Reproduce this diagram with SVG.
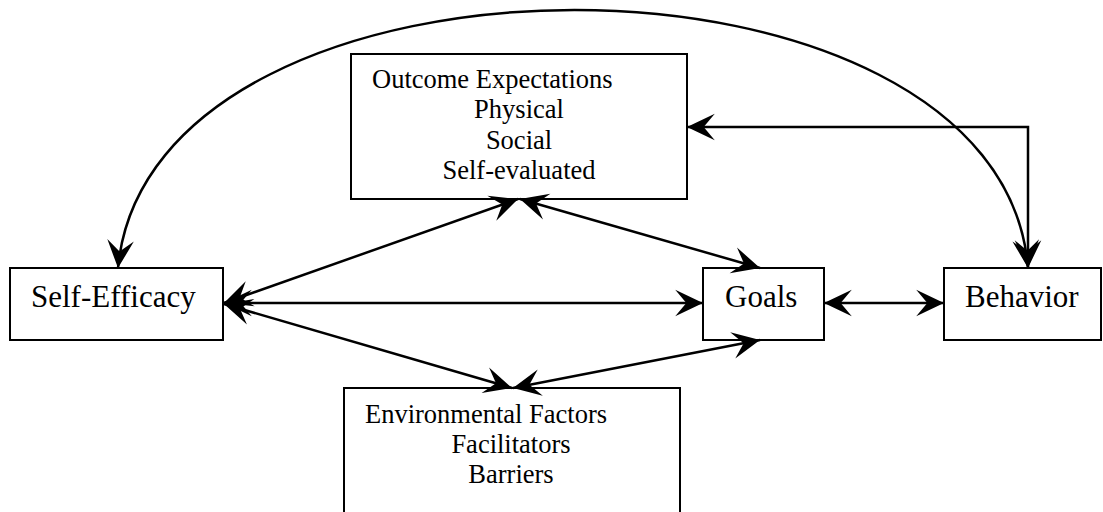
<svg xmlns="http://www.w3.org/2000/svg" width="1103" height="512" viewBox="0 0 1103 512">
<style>
.box{fill:#fff;stroke:#000;stroke-width:2}
.t{font-family:"Liberation Serif","Times New Roman",serif;fill:#000}
.s{font-size:26.5px}
.b{font-size:31px}
.c{text-anchor:middle}
.ln{fill:none;stroke:#000;stroke-width:2.5;marker-start:url(#ah);marker-end:url(#ah)}
</style>
<defs>
<marker id="ah" markerUnits="userSpaceOnUse" markerWidth="30" markerHeight="30" viewBox="-26 -13 27 26" refX="0" refY="0" orient="auto-start-reverse">
<path d="M0,0 L-25,-12 L-15,0 L-25,12 Z" fill="#000"/>
</marker>
</defs>
<g id="nodes">
<g id="outcome"><rect class="box" x="351" y="54" width="336" height="145"/>
<text class="t s" x="372" y="88">Outcome Expectations</text>
<text class="t s c" x="519" y="118">Physical</text>
<text class="t s c" x="519" y="149">Social</text>
<text class="t s c" x="519" y="179">Self-evaluated</text></g>
<g id="selfefficacy"><rect class="box" x="10" y="268" width="213" height="72"/>
<text class="t b" x="31" y="307">Self-Efficacy</text></g>
<g id="goals"><rect class="box" x="703" y="268" width="121" height="72"/>
<text class="t b" x="725" y="307">Goals</text></g>
<g id="behavior"><rect class="box" x="944" y="268" width="157" height="72"/>
<text class="t b" x="965" y="307">Behavior</text></g>
<g id="environment"><rect class="box" x="344" y="388" width="336" height="140"/>
<text class="t s" x="365" y="423">Environmental Factors</text>
<text class="t s c" x="511" y="453">Facilitators</text>
<text class="t s c" x="511" y="483">Barriers</text></g>
</g>
<g id="connectors">
<path class="ln" d="M118,268 C150,-76 1000,-76 1028,268"/>
<path class="ln" d="M1028,268 L1028,127 L687,127"/>
<path class="ln" d="M224,303 L518,199"/>
<path class="ln" d="M224,303 L703,303"/>
<path class="ln" d="M224,304 L512,388"/>
<path class="ln" d="M760,268 L520,199"/>
<path class="ln" d="M760,340 L513,388"/>
<path class="ln" d="M824,303 L944,303"/>
</g>
</svg>
